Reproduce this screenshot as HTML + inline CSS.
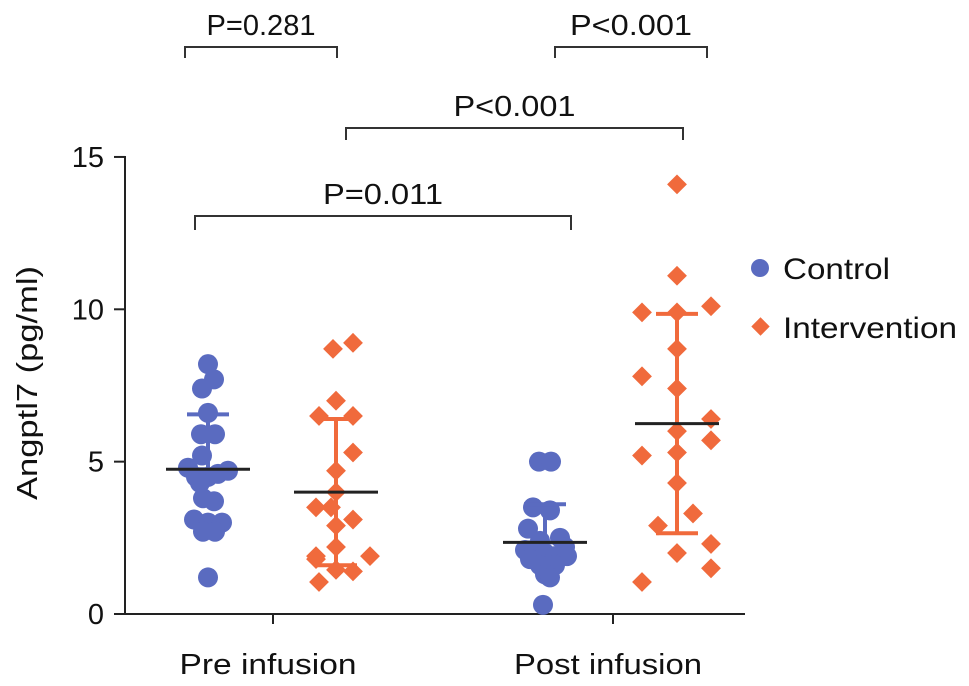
<!DOCTYPE html>
<html><head><meta charset="utf-8"><style>
body{margin:0;background:#fff}
svg{display:block;font-family:"Liberation Sans",Arial,sans-serif}
</style></head><body>
<svg id="chart" width="969" height="686" viewBox="0 0 969 686">
<g id="axes"></g><g id="marks"></g><g id="brackets"></g>
<g>
<circle cx="760" cy="268" r="9" fill="#5a6bc0"/>
<text x="783" y="279" font-size="30" textLength="107" lengthAdjust="spacingAndGlyphs" fill="#111">Control</text>
<rect x="754" y="320" width="13" height="13" fill="#f06a3c" transform="rotate(45 760.5 326.5)"/>
<text x="783" y="338" font-size="30" textLength="174" lengthAdjust="spacingAndGlyphs" fill="#111">Intervention</text>
</g>
<text transform="translate(37,383) rotate(-90)" text-anchor="middle" font-size="29" textLength="234" lengthAdjust="spacingAndGlyphs" fill="#111">Angptl7 (pg/ml)</text>
</svg>
<script>
const categories=["Pre infusion","Post infusion"];
const yTicks=[0,5,10,15];
const preControl=[8.2,7.7,7.4,6.6,5.9,5.9,5.2,4.8,4.7,4.6,4.5,4.5,4.3,3.8,3.7,3.1,3.0,3.0,2.7,2.7,1.2];
const preControlJit=[0,6,-6,0,-7,7,-6,-20,20,10,-12,0,-8,-5,6,-14,0,14,-5,7,0];
const preInterv=[8.9,8.7,7.0,6.5,6.5,5.3,4.7,4.0,3.5,3.5,3.1,2.9,2.2,1.9,1.9,1.8,1.45,1.4,1.05];
const preIntervJit=[17,-3,0,-17,17,17,0,0,-20,-5,17,0,0,-20,34,-20,0,17,-17];
const postControl=[5.0,5.0,3.5,3.4,2.8,2.5,2.4,2.2,2.1,2.1,2.0,1.9,1.9,1.8,1.6,1.6,1.3,1.2,0.3];
const postControlJit=[-6,6,-12,5,-17,15,-5,20,-20,-8,0,10,22,-15,-5,10,0,5,-2];
const postInterv=[14.1,11.1,10.1,9.9,9.9,8.7,7.8,7.4,6.4,6.0,5.7,5.3,5.2,4.3,3.3,2.9,2.3,2.0,1.5,1.05];
const postIntervJit=[0,0,34,-35,0,0,-35,0,34,0,34,0,-35,0,16,-19,34,0,34,-35];
const means=[4.75,4.0,2.35,6.25];
const upper=[6.55,6.4,3.6,9.85];
const lower=[4.75,1.6,2.35,2.65];
const brackets=[["P=0.281",0,1,47,58],["P<0.001",2,3,47,58],["P<0.001",1,3,128,140],["P=0.011",0,2,216,230]];
const bx=[[185,337],[555,707],[346,683],[195,571]];
const ns="http://www.w3.org/2000/svg";
const y=v=>614-v*30.47;
const catX=i=>273+i*340;
const groupX=[208,336,545,677];
function mk(t,a,p){const e=document.createElementNS(ns,t);for(const k in a)e.setAttribute(k,a[k]);p.appendChild(e);return e;}
const ax=document.getElementById('axes'),mg=document.getElementById('marks'),bg=document.getElementById('brackets');
let e=mk('line',{x1:125,y1:y(15)-1,x2:125,y2:615,stroke:'#222','stroke-width':2},ax);

e=mk('line',{x1:124,y1:614,x2:745,y2:614,stroke:'#222','stroke-width':2},ax);

yTicks.forEach(t=>{
 e=mk('line',{x1:114,y1:y(t),x2:125,y2:y(t),stroke:'#222','stroke-width':2},ax);
 
 e=mk('text',{x:104,y:y(t)+10,'text-anchor':'end','font-size':29,fill:'#111'},ax);e.textContent=t;
 
});
const xLabW=[177,188];
categories.forEach((c,i)=>{
 e=mk('line',{x1:catX(i),y1:614,x2:catX(i),y2:624,stroke:'#222','stroke-width':2},ax);
 
 e=mk('text',{x:catX(i)-5,y:674,'text-anchor':'middle','font-size':29,textLength:xLabW[i],lengthAdjust:'spacingAndGlyphs',fill:'#111'},ax);e.textContent=c;
 
});
const series=[[preControl,preControlJit,0],[preInterv,preIntervJit,1],[postControl,postControlJit,0],[postInterv,postIntervJit,1]];
series.forEach((s,g)=>{
 const col=s[2]?'#f06a3c':'#5a6bc0';
 s[0].forEach((v,i)=>{
  const cx=groupX[g]+s[1][i],cy=y(v);
  if(s[2]){e=mk('rect',{x:cx-7,y:cy-7,width:14,height:14,fill:col,transform:`rotate(45 ${cx} ${cy})`},mg);}
  else{e=mk('circle',{cx:cx,cy:cy,r:10,fill:col},mg);}
  
 });
 const gx=groupX[g];
 e=mk('line',{x1:gx,y1:y(lower[g]),x2:gx,y2:y(upper[g]),stroke:col,'stroke-width':4},mg);
 
 e=mk('line',{x1:gx-21,y1:y(upper[g]),x2:gx+21,y2:y(upper[g]),stroke:col,'stroke-width':4},mg);
 
 e=mk('line',{x1:gx-21,y1:y(lower[g]),x2:gx+21,y2:y(lower[g]),stroke:col,'stroke-width':4},mg);
 
 e=mk('line',{x1:gx-42,y1:y(means[g]),x2:gx+42,y2:y(means[g]),stroke:'#222','stroke-width':3},mg);
 
});
brackets.forEach((b,i)=>{
 const [x1,x2]=bx[i];
 e=mk('path',{d:`M${x1} ${b[4]}V${b[3]}H${x2}V${b[4]}`,fill:'none',stroke:'#333','stroke-width':2},bg);
 
 e=mk('text',{x:(x1+x2)/2,y:b[3]-12,'text-anchor':'middle','font-size':29,textLength:b[0]==="P=0.281"?109:(b[0]==="P=0.011"?120:122),lengthAdjust:'spacingAndGlyphs',fill:'#111'},bg);e.textContent=b[0];
 
});
</script>
</body></html>
